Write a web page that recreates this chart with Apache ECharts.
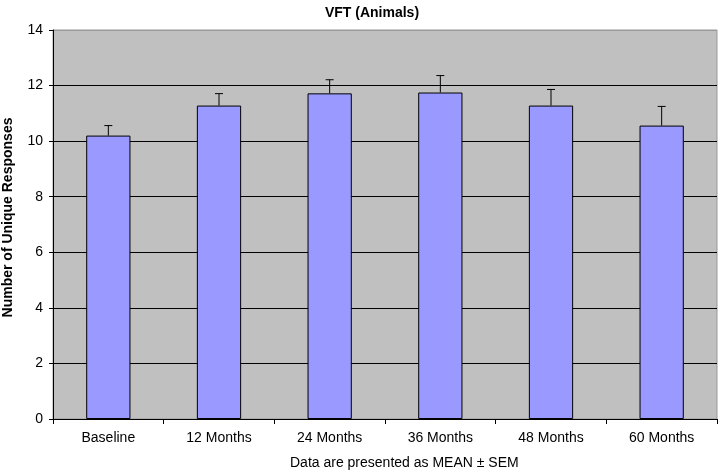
<!DOCTYPE html>
<html>
<head>
<meta charset="utf-8">
<script src="https://cdn.jsdelivr.net/npm/echarts@6/dist/echarts.min.js"></script>
<style>
  html, body { margin: 0; padding: 0; background: #fff; }
  #chart { width: 720px; height: 474px; }
</style>
</head>
<body>
<div id="chart"></div>
<script>
const categories = ['Baseline', '12 Months', '24 Months', '36 Months', '48 Months', '60 Months'];
const means = [10.2, 11.28, 11.72, 11.75, 11.28, 10.56];
const sem = [0.36, 0.43, 0.49, 0.61, 0.58, 0.69];
const yTicks = [0, 2, 4, 6, 8, 10, 12, 14];

const chart = echarts.init(document.getElementById('chart'));
const font = 'Liberation Sans, Arial, sans-serif';

const errData = categories.map((c, i) => [i, means[i], means[i] + sem[i]]);

const option = {
    animation: false,
    textStyle: { fontFamily: font },
    title: {
        text: 'VFT (Animals)',
        left: 367,
        textAlign: 'center',
        top: 1,
        textStyle: { fontSize: 14, fontWeight: 'bold', color: '#000', fontFamily: font }
    },
    grid: {
        left: 53,
        right: 3,
        top: 30,
        bottom: 55,
        containLabel: false,
        outerBoundsMode: 'none',
        show: true,
        backgroundColor: '#C0C0C0',
        borderColor: '#999',
        borderWidth: 1
    },
    xAxis: {
        type: 'category',
        data: categories,
        axisLine: { lineStyle: { color: '#000', width: 1 } },
        axisTick: { show: true, interval: 0, length: 5, lineStyle: { color: '#000' } },
        axisLabel: { color: '#000', fontSize: 14, margin: 12, fontFamily: font }
    },
    yAxis: {
        type: 'value',
        min: yTicks[0],
        max: yTicks[yTicks.length - 1],
        interval: 2,
        name: 'Number of Unique Responses',
        nameLocation: 'middle',
        nameGap: 38,
        nameTextStyle: { fontSize: 14, fontWeight: 'bold', color: '#000', fontFamily: font, padding: [0, 0, 0, 14] },
        axisLine: { show: true, lineStyle: { color: '#000', width: 1 } },
        axisTick: { show: true, length: 4, lineStyle: { color: '#000' } },
        axisLabel: { color: '#000', fontSize: 14, margin: 10, fontFamily: font },
        splitLine: {
            show: true,
            lineStyle: { color: ['#000', '#000', '#000', '#000', '#000', '#000', '#000', '#999'], width: 1 }
        }
    },
    graphic: [{
        type: 'text',
        left: 290,
        top: 456,
        style: { text: 'Data are presented as MEAN \u00b1 SEM', fontSize: 14, fill: '#000', fontFamily: font }
    }],
    series: [
        {
            type: 'bar',
            data: means,
            barWidth: '40%',
            itemStyle: { color: '#9999FF', borderColor: '#000', borderWidth: 1 }
        },
        {
            type: 'custom',
            data: errData,
            z: 10,
            renderItem: function (params, api) {
                const base = api.coord([api.value(0), api.value(1)]);
                const top = api.coord([api.value(0), api.value(2)]);
                const style = { stroke: '#000', lineWidth: 1 };
                return {
                    type: 'group',
                    children: [
                        { type: 'line', shape: { x1: base[0], y1: base[1], x2: top[0], y2: top[1] }, style: style },
                        { type: 'line', shape: { x1: top[0] - 4, y1: top[1], x2: top[0] + 4, y2: top[1] }, style: style }
                    ]
                };
            }
        }
    ]
};

chart.setOption(option);

window.addEventListener('resize', _ => {
    chart.resize();
});
</script>
</body>
</html>
